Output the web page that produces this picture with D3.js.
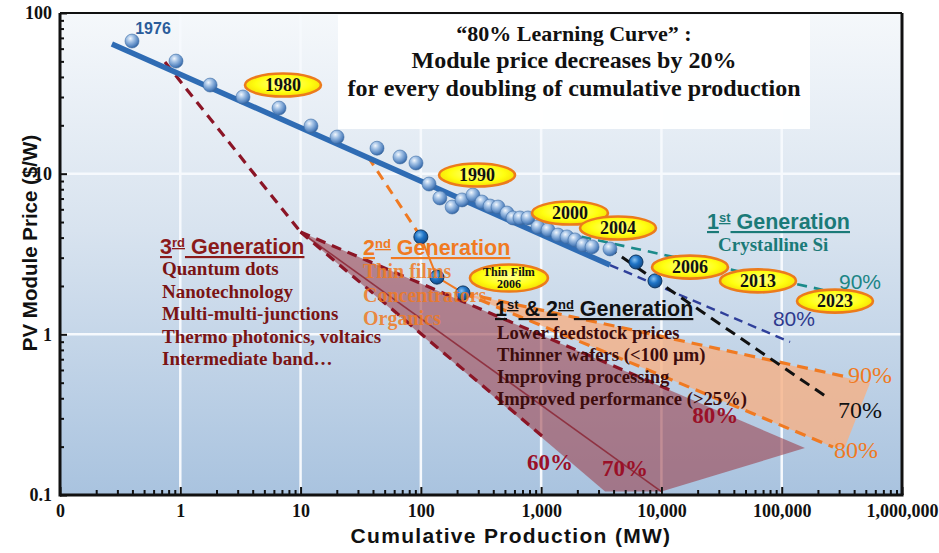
<!DOCTYPE html>
<html><head><meta charset="utf-8">
<script src="https://cdn.jsdelivr.net/npm/d3@7"></script>
<style>body{margin:0;background:#fff}svg{display:block}</style>
</head><body><svg id="c" width="939" height="553"></svg>
<script>
// ---------------- DATA ----------------
const xTickValues = [0.1, 1, 10, 100, 1000, 10000, 100000, 1000000];
const xTickLabels = ["0", "1", "10", "100", "1,000", "10,000", "100,000", "1,000,000"];
const yTickValues = [0.1, 1, 10, 100];
const yTickLabels = ["0.1", "1", "10", "100"];

// historical module prices (cumulative MW, $/W)
const histProduction = [0.397,0.921,1.77,3.32,6.62,12.2,20.1,43.2,67.1,91.1,117,144,182,220,271,322,376,438,520,583,667,777,941,1140,1380,1640,1910,2230,2650,3735];
const histPrice      = [66.9,50.2,35.6,30.0,25.6,19.8,16.9,14.4,12.7,11.65,8.62,7.06,6.20,6.86,7.36,6.66,6.29,6.20,5.69,5.30,5.30,5.30,4.66,4.46,4.15,4.04,3.87,3.60,3.50,3.40];

// 80% learning-curve fit
const fitProduction = [0.27, 3735];
const fitPrice      = [64.1, 2.70];

// 1st generation projections
const firstDotProduction = [6145, 8840];
const firstDotPrice      = [2.82, 2.15];
const first90Production = [606, 220300];   const first90Price = [5.0, 1.89];
const first80Production = [3735, 117200];  const first80Price = [2.70, 0.896];
const first70Production = [3527, 242500];  const first70Price = [3.50, 0.402];

// 2nd generation
const secondLeadProduction = [36.4, 100];  const secondLeadPrice = [12.7, 4.04];
const secondDotProduction = [100, 136, 224];
const secondDotPrice      = [4.04, 2.27, 1.81];
const second90Production = [224, 348900];  const second90Price = [1.81, 0.543];
const second80Production = [224, 266800];  const second80Price = [1.81, 0.199];
const secondBandProduction = [224, 541700, 335700, 266800];
const secondBandPrice      = [1.81, 0.498, 0.199, 0.199];

// 3rd generation
const thirdLeadProduction = [0.746, 10];   const thirdLeadPrice = [49.5, 4.33];
const third80Production = [10, 11780];     const third80Price = [4.33, 0.45];
const third60Production = [10, 1040];      const third60Price = [4.33, 0.23];
const third70Production = [10, 10000];     const third70Price = [4.33, 0.105];
const thirdBandProduction = [10, 156000, 10000, 3400];
const thirdBandPrice      = [4.33, 0.196, 0.105, 0.105];

// year callouts
const yearLabels     = ["1980","1990","2000","2004","2006","2013","2023"];
const yearProduction = [7.14, 293, 1737, 4354, 17280, 63480, 277200];
const yearPrice      = [35.6, 9.81, 5.69, 4.59, 2.62, 2.15, 1.61];

// percentage labels
const pctLabels     = ["90%","80%","90%","70%","80%","80%","60%","70%"];
const pctProduction = [447400, 126400, 541700, 447400, 414500, 27960, 1184, 4977];
const pctPrice      = [2.12, 1.26, 0.558, 0.338, 0.1906, 0.315, 0.1605, 0.147];
const pctKind       = ["teal","navy","orange","black","orange","red","red","red"];

// ---------------- CHART ----------------
const svg = d3.select("#c");
const SERIF = "'Liberation Serif','Times New Roman',serif";
const SANS = "'Liberation Sans',Arial,sans-serif";
const x = d3.scaleLog().domain([0.1, 1e6]).range([60, 902]);
const y = d3.scaleLog().domain([0.1, 100]).range([495, 13]);
const [x0, x1] = x.range(), [y1, y0] = y.range();

const defs = svg.append("defs");
const bg = defs.append("linearGradient").attr("id","bg").attr("x1",0).attr("y1",0).attr("x2",0).attr("y2",1);
[["0%","#f5f8fb"],["45%","#d8e3ef"],["100%","#a9c3df"]].forEach(s=>bg.append("stop").attr("offset",s[0]).attr("stop-color",s[1]));
const ball = defs.append("radialGradient").attr("id","ball").attr("cx","0.38").attr("cy","0.32").attr("r","0.72");
[["0%","#f2f7fd"],["35%","#a2c1e5"],["80%","#4f80bd"],["100%","#2d5b94"]].forEach(s=>ball.append("stop").attr("offset",s[0]).attr("stop-color",s[1]));
const dot = defs.append("radialGradient").attr("id","dot").attr("cx","0.4").attr("cy","0.35").attr("r","0.7");
[["0%","#86c2f2"],["45%","#1f74c6"],["100%","#0f4582"]].forEach(s=>dot.append("stop").attr("offset",s[0]).attr("stop-color",s[1]));
const yel = defs.append("radialGradient").attr("id","yel").attr("cx","0.5").attr("cy","0.45").attr("r","0.6");
[["0%","#ffff90"],["60%","#ffff10"],["100%","#f3d400"]].forEach(s=>yel.append("stop").attr("offset",s[0]).attr("stop-color",s[1]));

// plot background
svg.append("rect").attr("x",x0).attr("y",y0).attr("width",x1-x0).attr("height",y1-y0).attr("fill","url(#bg)");

// grid
const g = svg.append("g");
g.selectAll(".vg").data(xTickValues.slice(1,-1)).join("line")
  .attr("x1",d=>x(d)).attr("x2",d=>x(d)).attr("y1",y0).attr("y2",y1)
  .attr("stroke","#f6f9fd").attr("stroke-width",2.5);
g.selectAll(".hg").data(yTickValues.slice(1,-1)).join("line")
  .attr("x1",x0).attr("x2",x1).attr("y1",d=>y(d)).attr("y2",d=>y(d))
  .attr("stroke","#f6f9fd").attr("stroke-width",2.5);

const pts = (xs, ys) => d3.zip(xs, ys);
const line = d3.line().x(d=>x(d[0])).y(d=>y(d[1]));

// shaded bands
svg.append("path").attr("d", line(pts(thirdBandProduction, thirdBandPrice))+"Z")
  .attr("fill","rgb(155,62,74)").attr("fill-opacity",0.58);
svg.append("path").attr("d", line(pts(secondBandProduction, secondBandPrice))+"Z")
  .attr("fill","#f6b084").attr("fill-opacity",0.8);

// title box
svg.append("rect").attr("x",338).attr("y",15).attr("width",472).attr("height",114).attr("fill","#fff").attr("fill-opacity",0.96);
const title = svg.append("text").attr("font-family",SERIF).attr("font-weight","bold").attr("text-anchor","middle").attr("fill","#111");
[["\u201C80% Learning Curve\u201D :",22,41],["Module price decreases by 20%",24,68],["for every doubling of cumulative production",24,96]].forEach(t=>
  title.append("tspan").attr("x",574).attr("y",t[2]).attr("font-size",t[1]).text(t[0]));

// dashed / solid lines
function drawLine(xs, ys, color, width, dash, op){
  svg.append("path").attr("d", line(pts(xs, ys))).attr("fill","none")
    .attr("stroke",color).attr("stroke-width",width).attr("stroke-dasharray",dash||null)
    .attr("stroke-opacity",op||1).attr("stroke-linecap","butt");
}
drawLine(third70Production, third70Price, "#8a2030", 1.6, null, 0.8);
drawLine(thirdLeadProduction, thirdLeadPrice, "#8b1526", 3.2, "10,7");
drawLine(third80Production, third80Price, "#8b1526", 3.2, "10,7");
drawLine(third60Production, third60Price, "#8b1526", 3.2, "10,7");
drawLine(secondLeadProduction, secondLeadPrice, "#f07a22", 3, "10,7");
drawLine(secondDotProduction, secondDotPrice, "#f07a22", 2, null);
drawLine(second90Production, second90Price, "#f07a22", 3.2, "11,7");
drawLine(second80Production, second80Price, "#f07a22", 3.2, "11,7");
drawLine(first90Production, first90Price, "#1b8a8a", 2.6, "10,7");
drawLine(first80Production, first80Price, "#2f3f9a", 2.4, "9,6");
drawLine(first70Production, first70Price, "#111", 3, "11,7");

// fit line
drawLine(fitProduction, fitPrice, "#2f6cb4", 5.5, null);

// historical balls
svg.selectAll(".ball").data(pts(histProduction, histPrice)).join("circle")
  .attr("cx",d=>x(d[0])).attr("cy",d=>y(d[1])).attr("r",7)
  .attr("fill","url(#ball)").attr("stroke","#3f6ea6").attr("stroke-width",0.6);
// projection dots
svg.selectAll(".dot").data(pts(firstDotProduction, firstDotPrice).concat(pts(secondDotProduction, secondDotPrice))).join("circle")
  .attr("cx",d=>x(d[0])).attr("cy",d=>y(d[1])).attr("r",7)
  .attr("fill","url(#dot)").attr("stroke","#0d355f").attr("stroke-width",1);

// 1976 label
svg.append("text").attr("x",x(0.593)).attr("y",y(80.7)).attr("dy","0.35em").attr("text-anchor","middle")
  .attr("font-family",SANS).attr("font-weight","bold").attr("font-size",16).attr("fill","#2a5c9a").text("1976");

// year ellipses
const yl = svg.selectAll(".yl").data(d3.zip(yearLabels, yearProduction, yearPrice)).join("g")
  .attr("transform",d=>`translate(${x(d[1])},${y(d[2])})`);
yl.append("ellipse").attr("rx",38).attr("ry",11.5).attr("fill","url(#yel)").attr("stroke","#ec7b1c").attr("stroke-width",2.6);
yl.append("text").attr("text-anchor","middle").attr("dy","0.35em").attr("font-family",SERIF).attr("font-weight","bold").attr("font-size",18).attr("fill","#111").text(d=>d[0]);

// Thin film 2006
const tf = svg.append("g").attr("transform",`translate(${x(540)},${y(2.24)})`);
tf.append("ellipse").attr("rx",39).attr("ry",13.5).attr("fill","url(#yel)").attr("stroke","#ec7b1c").attr("stroke-width",2.6);
const tft = tf.append("text").attr("text-anchor","middle").attr("font-family",SERIF).attr("font-weight","bold").attr("font-size",12).attr("fill","#111");
tft.append("tspan").attr("x",0).attr("y",-2).text("Thin Film");
tft.append("tspan").attr("x",0).attr("y",10).text("2006");

// percentage labels
const pctStyle = {
  teal:  {fill:"#1b8585", font:SANS, size:21, weight:"normal"},
  navy:  {fill:"#2f3a8e", font:SANS, size:21, weight:"normal"},
  orange:{fill:"#f07a22", font:SERIF, size:24, weight:"normal"},
  black: {fill:"#111",    font:SERIF, size:24, weight:"normal"},
  red:   {fill:"#9a1028", font:SERIF, size:23, weight:"bold"}
};
svg.selectAll(".pct").data(d3.zip(pctLabels, pctProduction, pctPrice, pctKind)).join("text")
  .attr("x",d=>x(d[1])).attr("y",d=>y(d[2])).attr("dy","0.35em").attr("text-anchor","middle")
  .attr("font-family",d=>pctStyle[d[3]].font).attr("font-size",d=>pctStyle[d[3]].size)
  .attr("font-weight",d=>pctStyle[d[3]].weight).attr("fill",d=>pctStyle[d[3]].fill).text(d=>d[0]);

// generation headers
function header(xp, yp, parts, color){
  const t = svg.append("text").attr("x",xp).attr("y",yp).attr("font-family",SANS).attr("font-weight","bold")
    .attr("font-size",21.5).attr("fill",color).attr("text-decoration","underline");
  parts.forEach(p=>{
    if (p[1]) t.append("tspan").attr("font-size",13).attr("dy",-7).text(p[0]);
    else t.append("tspan").attr("dy",p[2]?7:0).text(p[0]);
  });
  return t;
}
function list(xp, yp, items, color, gap, size, op){
  const t = svg.append("text").attr("font-family",SERIF).attr("font-weight","bold").attr("font-size",size).attr("fill",color).attr("fill-opacity",op||1);
  items.forEach((s,i)=>t.append("tspan").attr("x",xp).attr("y",yp+i*gap).text(s));
}
header(160, 254, [["3"],["rd",1],[" Generation",0,1]], "#8b1a1a");
list(162, 275, ["Quantum dots","Nanotechnology","Multi-multi-junctions","Thermo photonics, voltaics","Intermediate band\u2026"], "#7a1414", 22.5, 19);
header(363, 255, [["2"],["nd",1],[" Generation",0,1]], "#f07a22");
list(363, 278, ["Thin films","Concentrators","Organics"], "#f07a22", 23.5, 20, 0.85);
header(495, 316, [["1"],["st",1],[" & 2",0,1],["nd",1],[" Generation",0,1]], "#111");
list(497, 339, ["Lower feedstock prices","Thinner wafers (<100 \u00B5m)","Improving processing","Improved performance (>25%)"], "#3d0c0c", 22, 18.6);
header(707, 229, [["1"],["st",1],[" Generation",0,1]], "#1b7a78");
svg.append("text").attr("x",718).attr("y",251).attr("font-family",SERIF).attr("font-weight","bold").attr("font-size",19).attr("fill","#1b7a78").text("Crystalline Si");

// axes
const minorX = [], minorY = [];
xTickValues.slice(0,-1).forEach(d=>{ for(let k=2;k<10;k++) minorX.push(d*k); });
yTickValues.slice(0,-1).forEach(d=>{ for(let k=2;k<10;k++) minorY.push(d*k); });
const ax = svg.append("g").attr("transform",`translate(0,${y1})`);
ax.call(d3.axisBottom(x).tickValues(minorX).tickSizeInner(-5).tickSizeOuter(0).tickFormat(""));
ax.append("g").call(d3.axisBottom(x).tickValues(xTickValues).tickSizeInner(-8).tickSizeOuter(0).tickPadding(9).tickFormat((d,i)=>xTickLabels[i]));
const ay = svg.append("g").attr("transform",`translate(${x0},0)`);
ay.call(d3.axisLeft(y).tickValues(minorY).tickSizeInner(-4).tickSizeOuter(0).tickFormat(""));
ay.append("g").call(d3.axisLeft(y).tickValues(yTickValues).tickSizeInner(-7).tickSizeOuter(0).tickPadding(8).tickFormat((d,i)=>yTickLabels[i]));
svg.selectAll(".tick line").attr("stroke","#111").attr("stroke-width",2);
svg.selectAll(".domain").attr("stroke","none");
svg.selectAll(".tick text").attr("font-family",SERIF).attr("font-weight","bold").attr("font-size",18).attr("fill","#111");

// frame
svg.append("line").attr("x1",x0).attr("x2",x1).attr("y1",y0).attr("y2",y0).attr("stroke","#111").attr("stroke-width",2);
svg.append("line").attr("x1",x1).attr("x2",x1).attr("y1",y0).attr("y2",y1).attr("stroke","#111").attr("stroke-width",3);
svg.append("line").attr("x1",x0).attr("x2",x0).attr("y1",y0).attr("y2",y1+1.5).attr("stroke","#111").attr("stroke-width",3);
svg.append("line").attr("x1",x0).attr("x2",x1+1.5).attr("y1",y1).attr("y2",y1).attr("stroke","#111").attr("stroke-width",3);

// axis titles
svg.append("text").attr("x",511).attr("y",543).attr("text-anchor","middle").attr("font-family",SANS).attr("font-weight","bold")
  .attr("font-size",21).attr("letter-spacing",1.3).attr("fill","#111").text("Cumulative Production (MW)");
svg.append("text").attr("transform","translate(37,243) rotate(-90)").attr("text-anchor","middle").attr("font-family",SANS).attr("font-weight","bold")
  .attr("font-size",20.5).attr("fill","#111").text("PV Module Price ($/W)");
</script></body></html>
